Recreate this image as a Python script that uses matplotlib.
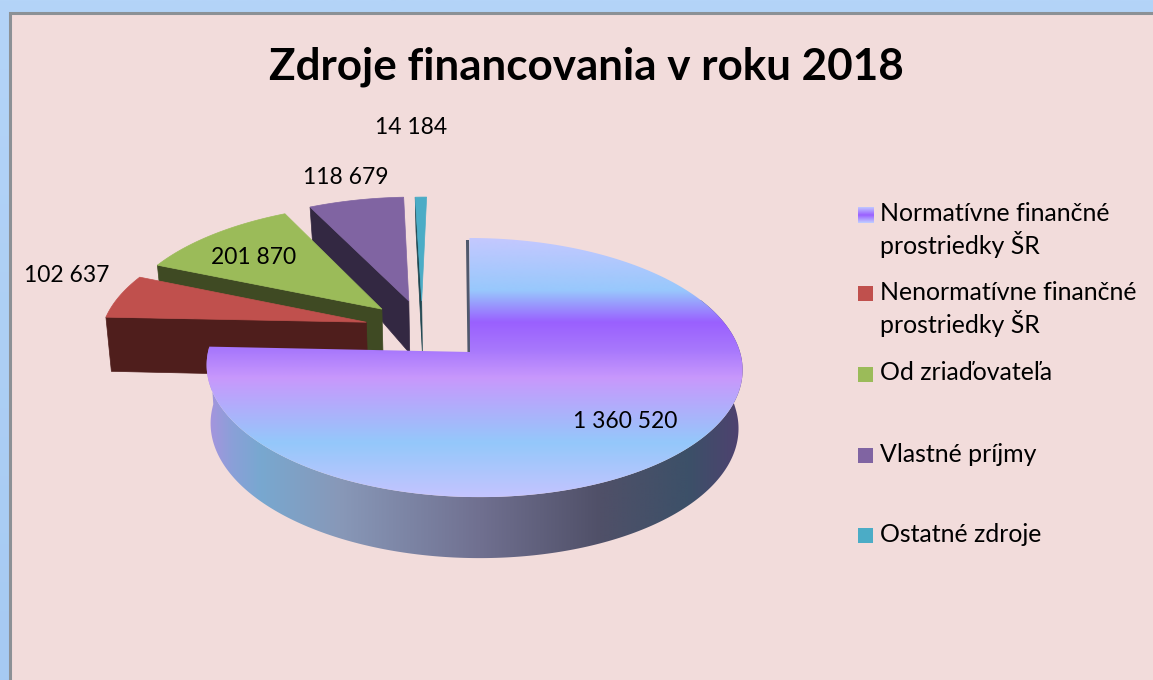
import numpy as np
import matplotlib
matplotlib.use("Agg")
import matplotlib.pyplot as plt
from matplotlib.colors import to_rgb
from matplotlib.patches import Polygon, Rectangle

plt.rcParams['font.family'] = ['Lato', 'DejaVu Sans']

# ---- data
categories = ["Normatívne finančné\nprostriedky ŠR", "Nenormatívne finančné\nprostriedky ŠR",
              "Od zriaďovateľa", "Vlastné príjmy", "Ostatné zdroje"]
values = [1360520, 102637, 201870, 118679, 14184]
title = "Zdroje financovania v roku 2018"

# ---- style / layout
top_colors = [None, "#c0504d", "#9bbb59", "#8064a2", "#4bacc6"]
wall_colors = [None, "#4f1e1c", "#3f4a23", "#332842", "#1e4650"]
explode_u = [0, -0.395, -0.34, -0.238, -0.188]
explode_v = [0, 0.24, 0.35, 0.42, 0.42]
label_pos = [(625, 421), (67, 276), (254, 257), (346, 178), (411, 127)]
legend_y = [215, 293, 374, 455, 535]
legend_text_y = [230, 309, 373, 454, 534]
CX, CY, RX, RY, PERSP = 470, 352, 270, 127.7, 0.12

top_y = [238, 290, 322, 350, 378, 443, 497]
top_c = ["#c4c8ff", "#98c8fc", "#9a60ff", "#a878fc", "#c898fc", "#94c8fa", "#c4c4ff"]
side_x = [200, 232, 260, 340, 480, 600, 690, 745]
side_c = ["#b090e0", "#8aa0d8", "#78a8d0", "#8898b8", "#707090", "#505068", "#3c5068", "#504070"]


def project(u, v):
    s = 1 / (1 + PERSP * v)
    return CX + RX * u * s, CY - RY * v * s


def drop(x, y):
    d = np.interp(y, [208, 298, 350, 497], [34, 52, 58, 61])
    return CX + (x - CX) * 0.985, y + d


def arc(a0, a1, eu, ev, n=120):
    a = np.radians(np.linspace(a0, a1, n))
    return project(eu + np.sin(a), ev + np.cos(a))


def ramp(stops, colors, n=400):
    pos = np.linspace(stops[0], stops[-1], n)
    rgb = np.array([to_rgb(c) for c in colors])
    return np.stack([np.interp(pos, stops, rgb[:, i]) for i in range(3)], axis=-1)


fig = plt.figure(figsize=(11.53, 6.8), dpi=100)
ax = fig.add_axes([0, 0, 1, 1])
ax.set_xlim(0, 1153)
ax.set_ylim(680, 0)
ax.axis("off")

# background
bg = np.linspace(to_rgb("#b4d4f8"), to_rgb("#a6caf2"), 300)[:, None, :]
ax.imshow(bg, extent=(0, 1153, 680, 0), aspect="auto", zorder=0)
ax.add_patch(Rectangle((10, 13), 1160, 680, fc="#f2dcdb", ec="#8c9196", lw=2.2, zorder=1))

# slices
angles = np.cumsum([0] + values) / sum(values) * 360
for i in [4, 3, 2, 1]:
    a0, a1 = angles[i], angles[i + 1]
    ax0, ay0 = project(explode_u[i], explode_v[i])
    xs, ys = arc(a0, a1, explode_u[i], explode_v[i])
    bx0, by0 = drop(ax0, ay0)
    bx1, by1 = drop(xs[0], ys[0])
    ax.add_patch(Polygon([(ax0, ay0), (xs[0], ys[0]), (bx1, by1), (bx0, by0)],
                         fc=wall_colors[i], ec=wall_colors[i], lw=0.5, zorder=2 + (5 - i)))
    ax.add_patch(Polygon(np.r_[[(ax0, ay0)], np.c_[xs, ys]],
                         fc=top_colors[i], ec=top_colors[i], lw=0.5, zorder=2 + (5 - i)))

# main slice: rim and top with gradients (slightly sheared like the original's perspective)
a0, a1 = angles[0], angles[1]
xs, ys = arc(a0, a1, 0, 0, 300)
xs = 474 + (xs - CX) * 266 / 270 + 0.04 * (ys - CY)
bx, by = drop(xs, ys)
rim_poly = np.r_[np.c_[xs, ys], np.c_[bx, by][::-1]]
rim = Polygon(rim_poly, fc="none", ec="none", transform=ax.transData)
ax.add_patch(rim)
rim_img = ax.imshow(ramp(side_x, side_c)[None, :, :], extent=(side_x[0], side_x[-1], 600, 300),
                    aspect="auto", zorder=8, interpolation="bilinear")
rim_img.set_clip_path(rim)
ax.plot([CX - 2.5, CX - 1], [240, 352], color="#50586c", lw=2.2, zorder=8, solid_capstyle="butt")

top_poly = np.r_[[(CX, CY)], np.c_[xs, ys]]
top = Polygon(top_poly, fc="none", ec="none", transform=ax.transData)
ax.add_patch(top)
top_img = ax.imshow(ramp(top_y, top_c)[:, None, :], extent=(190, 760, top_y[-1], top_y[0]),
                    aspect="auto", zorder=9, interpolation="bilinear")
top_img.set_clip_path(top)

# texts
ax.text(586, 67, title, fontsize=31.7, fontweight="bold", ha="center", va="center", color="black", zorder=12)
for v, (x, y) in zip(values, label_pos):
    ax.text(x, y, f"{v:,}".replace(",", " "), fontsize=16.5, ha="center", va="center", color="black", zorder=12)

# legend
swatches = ["grad"] + top_colors[1:]
for name, sw, y, ty in zip(categories, swatches, legend_y, legend_text_y):
    if sw == "grad":
        ax.imshow(ramp([0, 0.5, 1], ["#c0c8ff", "#9a60ff", "#c0d0ff"])[:, None, :],
                  extent=(858, 874, y + 8, y - 8), aspect="auto", zorder=10)
    else:
        ax.add_patch(Rectangle((858, y - 7.5), 15, 15, fc=sw, ec="none", zorder=10))
    ax.text(880, ty, name, fontsize=17.9, ha="left", va="center",
            linespacing=1.25, color="black", zorder=12)
ax.set_xlim(0, 1153)
ax.set_ylim(680, 0)

fig.savefig("out.png", dpi=100)
